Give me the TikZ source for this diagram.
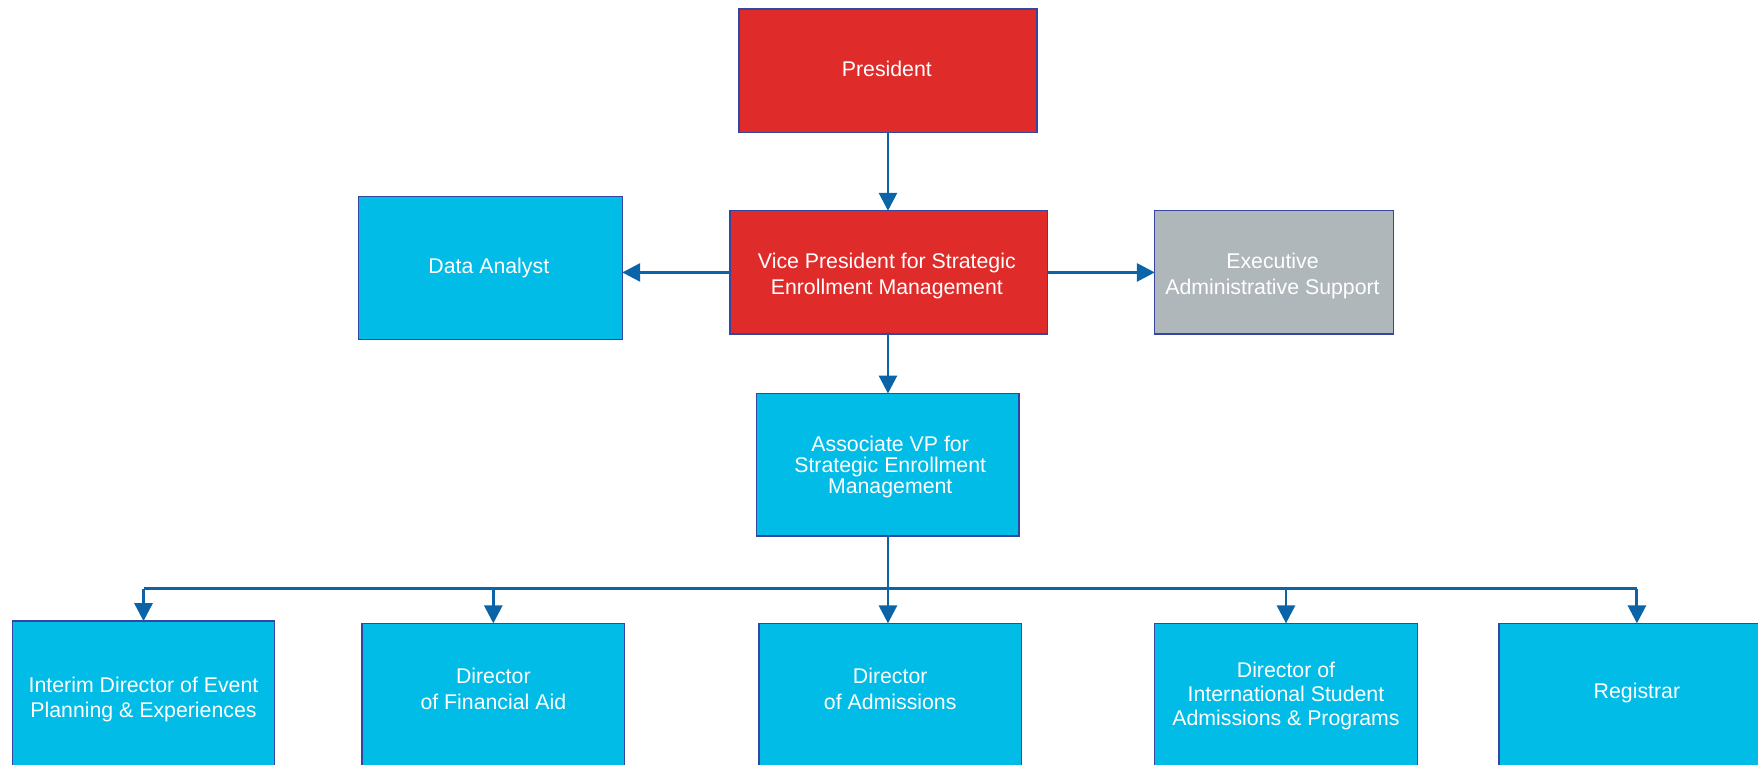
\documentclass[tikz,border=0pt]{standalone}
\usepackage{fontspec}
\setmainfont{Liberation Sans}
\usetikzlibrary{arrows.meta}
\definecolor{boxred}{HTML}{E02B2B}
\definecolor{boxcyan}{HTML}{00BCE6}
\definecolor{boxgray}{HTML}{B0B7BB}
\definecolor{edgeblue}{HTML}{3446A0}
\definecolor{linkblue}{HTML}{0B64A8}
\tikzset{
  orgbox/.style={draw=edgeblue, line width=1.2pt, inner sep=0pt, outer sep=0pt},
  redbox/.style={orgbox, fill=boxred},
  cyanbox/.style={orgbox, fill=boxcyan},
  graybox/.style={orgbox, fill=boxgray},
  label text/.style={text=white, align=center, inner sep=0pt, font=\fontsize{19}{22.8}\selectfont},
  tight text/.style={label text, font=\fontsize{19}{19}\selectfont},
  mid text/.style={label text, font=\fontsize{19}{21.3}\selectfont},
  link/.style={draw=linkblue, line width=2.6pt, -{Triangle[width=16pt,length=16pt]}},
  busline/.style={draw=linkblue, line width=2.6pt}
}
\begin{document}
\begin{tikzpicture}[x=1pt,y=-1pt]
\useasboundingbox (0,0) rectangle (1568,682);
\clip (0,0) rectangle (1568,682);
% top boxes
\node[redbox, minimum width=266pt, minimum height=110pt] (pres) at (792,63) {};
\node[label text] (prest) at (791,61) {President};
\node[redbox, minimum width=283pt, minimum height=110pt] (vp) at (792.5,243) {};
\node[label text] (vpt) at (791,246) {Vice President for Strategic\\Enrollment Management};
\node[cyanbox, minimum width=235pt, minimum height=128pt] (da) at (437.5,239) {};
\node[label text] (dat) at (436,239) {Data Analyst};
\node[graybox, minimum width=213pt, minimum height=110pt] (ex) at (1136.5,243) {};
\node[label text] (ext) at (1135,246) {Executive\\Administrative Support};
\node[cyanbox, minimum width=234pt, minimum height=127pt] (avp) at (792,414.5) {};
\node[tight text] (avpt) at (794,416.5) {Associate VP for\\Strategic Enrollment\\Management};
% bottom boxes (run off the page)
\node[cyanbox, minimum width=234pt, minimum height=180pt, anchor=north] (b1) at (128,554) {};
\node[label text] (b1t) at (128,624) {Interim Director of Event\\Planning \& Experiences};
\node[cyanbox, minimum width=234pt, minimum height=180pt, anchor=north] (b2) at (440,556) {};
\node[label text] (b2t) at (440,614.5) {Director\\of Financial Aid};
\node[cyanbox, minimum width=234pt, minimum height=180pt, anchor=north] (b3) at (794,556) {};
\node[label text] (b3t) at (794,614.5) {Director\\of Admissions};
\node[cyanbox, minimum width=234pt, minimum height=180pt, anchor=north] (b4) at (1147,556) {};
\node[mid text] (b4t) at (1147,621) {Director of\\International Student\\Admissions \& Programs};
\node[cyanbox, minimum width=234pt, minimum height=180pt, anchor=north] (b5) at (1454,556) {};
\node[label text] (b5t) at (1460,618) {Registrar};
% connectors
\draw[link] (pres.south) -- (vp.north -| pres.south);
\draw[link] (vp.west) -- (vp.west -| da.east);
\draw[link] (vp.east) -- (vp.east -| ex.west);
\draw[link] (vp.south -| avp.north) -- (avp.north);
\coordinate (bus) at (792,525);
\coordinate (busend) at (1460,525);
\draw[busline] (avp.south) -- (bus);
\draw[busline] (bus -| b1.north) -- (busend);
\draw[link] (bus -| b1.north) -- (b1.north);
\draw[link] (bus -| b2.north) -- (b2.north);
\draw[link] (avp.south) -- (avp.south |- b3.north);
\draw[link] (bus -| b4.north) -- (b4.north);
\draw[link] (busend) -- (busend |- b5.north);
\end{tikzpicture}
\end{document}
